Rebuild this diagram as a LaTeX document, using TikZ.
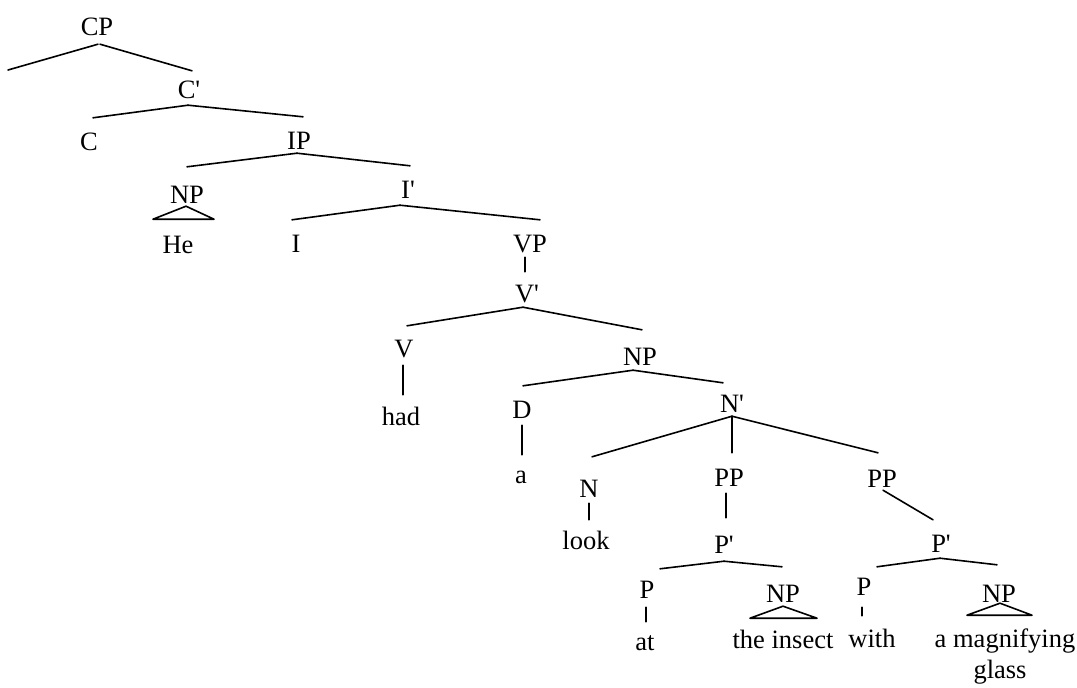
\documentclass[tikz,border=0pt]{standalone}
\usepackage{fontspec}
\setmainfont{Liberation Serif}
\usetikzlibrary{calc}
\newcommand{\prm}{\textquotesingle}
\begin{document}
\begin{tikzpicture}[x=1pt,y=-1pt,
  lab/.style={anchor=base, inner sep=0pt, text height=29pt, text depth=6pt,
              font=\fontsize{26.5}{30}\selectfont},
  branch/.style={line width=1.6pt, line cap=round}]
\fill[white] (0,0) rectangle (1077,688);
\useasboundingbox (0,0) rectangle (1077,688);

% category labels (x = centre, y = baseline)
\node[lab] (CP)   at (97,35)   {CP};
\node[lab] (Cb)   at (189,98)  {C\prm};
\node[lab] (C)    at (89,150)  {C};
\node[lab] (IP)   at (299,149) {IP};
\node[lab] (NPa)  at (187,203) {NP};
\node[lab] (He)   at (178,253) {He};
\node[lab] (Ib)   at (408,198) {I\prm};
\node[lab] (I)    at (296,252) {I};
\node[lab] (VP)   at (530,252) {VP};
\node[lab] (Vb)   at (527,302) {V\prm};
\node[lab] (V)    at (404,357) {V};
\node[lab] (had)  at (401,425) {had};
\node[lab] (NPb)  at (640,365) {NP};
\node[lab] (D)    at (522,418) {D};
\node[lab] (a)    at (521,483) {a};
\node[lab] (Nb)   at (732,412) {N\prm};
\node[lab] (N)    at (589,497) {N};
\node[lab] (look) at (586,549) {look};
\node[lab] (PPa)  at (729,486) {PP};
\node[lab] (Pba)  at (724,553) {P\prm};
\node[lab] (Pa)   at (647,598) {P};
\node[lab] (at)   at (645,650) {at};
\node[lab] (NPc)  at (783,602) {NP};
\node[lab] (ins)  at (783,648) {the insect};
\node[lab] (PPb)  at (882,487) {PP};
\node[lab] (Pbb)  at (941,552) {P\prm};
\node[lab] (Pb)   at (864,595) {P};
\node[lab] (with) at (872,647) {with};
\node[lab] (NPd)  at (999,602) {NP};
\node[lab] (mag)  at (1005,647) {a magnifying};
\node[lab] (gl)   at (1000,678) {glass};
\coordinate (spec) at (8,70);

% branches
\draw[branch] ($(CP.south)+(1,3)$) -- (spec);
\draw[branch] ($(CP.south)+(3,3)$) -- ($(Cb.north)+(3,2)$);
\draw[branch] ($(Cb.south)+(-1,1)$) -- ($(C.north)+(4,-3)$);
\draw[branch] ($(Cb.south)+(-1,1)$) -- ($(IP.north)+(4,-3)$);
\draw[branch] ($(IP.south)+(-2,-2)$) -- ($(NPa.north)+(0,-7)$);
\draw[branch] ($(IP.south)+(-2,-2)$) -- ($(Ib.north)+(2,-3)$);
\draw[branch] ($(Ib.south)+(-8,1)$) -- ($(I.north)+(-4,-3)$);
\draw[branch] ($(Ib.south)+(-8,1)$) -- ($(VP.north)+(10,-3)$);
\draw[branch] ($(VP.south)+(-5,-1)$) -- ($(Vb.north)+(-2,-1)$);
\draw[branch] ($(Vb.south)+(-4,-1)$) -- ($(V.north)+(3,-2)$);
\draw[branch] ($(Vb.south)+(-4,-1)$) -- ($(NPb.north)+(2,-6)$);
\draw[branch] ($(V.south)+(-1,2)$) -- ($(had.north)+(2,-1)$);
\draw[branch] ($(NPb.south)+(-7,-1)$) -- ($(D.north)+(1,-3)$);
\draw[branch] ($(NPb.south)+(-7,-1)$) -- ($(Nb.north)+(-9,0)$);
\draw[branch] ($(D.south)+(0,1)$) -- ($(a.north)+(1,1)$);
\draw[branch] ($(Nb.south)+(0,-2)$) -- ($(N.north)+(3,-11)$);
\draw[branch] ($(Nb.south)+(0,-2)$) -- ($(PPa.north)+(3,-4)$);
\draw[branch] ($(Nb.south)+(0,-2)$) -- ($(PPb.north)+(-4,-5)$);
\draw[branch] (N.south) -- ($(look.north)+(3,0)$);
\draw[branch] ($(PPa.south)+(-3,1)$) -- ($(Pba.north)+(2,-6)$);
\draw[branch] ($(Pba.south)+(0,2)$) -- ($(Pa.north)+(13,0)$);
\draw[branch] ($(Pba.south)+(0,2)$) -- ($(NPc.north)+(-1,-6)$);
\draw[branch] ($(Pa.south)+(-1,3)$) -- ($(at.north)+(1,1)$);
\draw[branch] ($(PPb.south)+(1,-3)$) -- ($(Pbb.north)+(-8,-3)$);
\draw[branch] ($(Pbb.south)+(-1,0)$) -- ($(Pb.north)+(13,1)$);
\draw[branch] ($(Pbb.south)+(-1,0)$) -- ($(NPd.north)+(-2,-8)$);
\draw[branch] ($(Pb.south)+(-2,6)$) -- ($(with.north)+(-10,-2)$);

% triangles over unanalysed phrases
\draw[branch, line join=round] ($(NPa.south)+(-1,-3)$) -- ($(NPa.south)+(-34,10)$)
  -- ($(NPa.south)+(27,10)$) -- cycle;
\draw[branch, line join=round] ($(NPc.south)+(0,-2)$) -- ($(NPc.south)+(-33,10)$)
  -- ($(NPc.south)+(34,10)$) -- cycle;
\draw[branch, line join=round] ($(NPd.south)+(1,-5)$) -- ($(NPd.south)+(-32,7)$)
  -- ($(NPd.south)+(33,7)$) -- cycle;
\end{tikzpicture}
\end{document}
